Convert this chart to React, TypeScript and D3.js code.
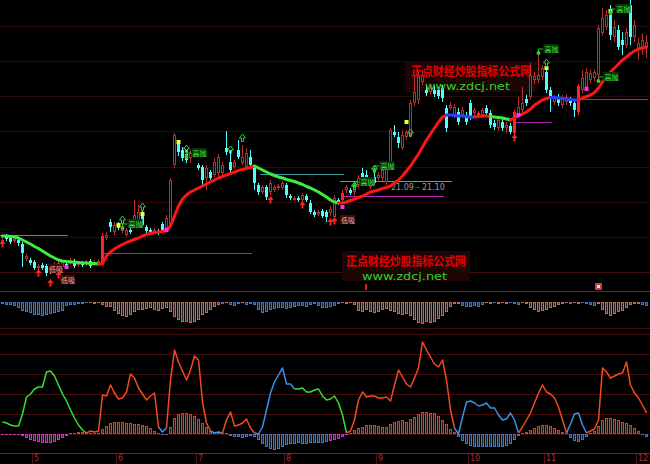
import React from 'react';
import * as d3 from 'd3';

// ---------- main panel: daily candles (price) ----------
const opens = [
  15.5, 16.1, 15.9, 15.6, 15.7, 15.3, 13.8, 13.7, 13.5, 12.9,
  13.2, 13.1, 12.9, 12.7, 12.4, 13.0, 13.3, 13.4, 13.6, 13.2,
  13.4, 13.3, 13.6, 13.3, 13.4, 13.4, 15.9, 17.5, 16.5, 17.3,
  16.6, 16.2, 16.7, 17.2, 17.5, 18.3, 17.0, 16.7, 16.5, 16.6,
  17.3, 16.9, 17.2, 23.2, 25.4, 24.7, 24.3, 23.9, 24.2, 23.2,
  23.0, 21.9, 22.5, 22.2, 22.4, 22.4, 24.9, 23.5, 23.0, 24.7,
  23.4, 23.0, 24.0, 23.0, 21.2, 20.5, 21.0, 20.5, 20.7, 20.9,
  20.9, 21.2, 20.1, 19.7, 19.9, 19.7, 20.1, 19.4, 18.5, 18.3,
  18.6, 18.5, 18.4, 18.0, 19.7, 19.7, 20.7, 20.7, 20.5, 21.2,
  22.4, 22.2, 21.0, 22.0, 21.9, 21.9, 21.5, 23.2, 26.5, 26.0,
  24.9, 26.0, 26.4, 29.4, 29.7, 31.5, 30.7, 30.5, 30.7, 30.7,
  30.9, 28.9, 28.9, 28.2, 28.5, 28.2, 28.2, 29.4, 28.4, 28.1,
  28.2, 28.9, 28.4, 27.4, 26.9, 27.5, 26.9, 27.1, 26.4, 28.2,
  28.7, 29.8, 30.0, 31.7, 31.7, 32.0, 32.5, 30.7, 29.5, 30.0,
  29.2, 29.5, 29.7, 29.4, 28.5, 30.7, 31.0, 31.7, 31.9, 32.2,
  36.4, 37.0, 38.2, 36.0, 36.7, 35.7, 35.2, 39.2, 36.0, 34.7,
  34.9, 35.0,
];
const highs = [
  16.0, 16.3, 16.1, 16.0, 15.9, 15.5, 14.3, 13.9, 13.7, 13.3,
  13.4, 13.3, 13.1, 13.5, 13.7, 13.7, 13.5, 13.9, 13.8, 13.6,
  13.6, 13.7, 13.8, 13.7, 13.8, 16.4, 16.5, 17.8, 17.5, 17.5,
  17.1, 16.9, 16.9, 19.7, 19.2, 18.7, 17.2, 16.9, 16.9, 16.8,
  17.5, 18.2, 21.9, 26.4, 25.7, 25.0, 24.7, 24.7, 24.7, 23.4,
  23.2, 23.2, 22.7, 23.9, 24.3, 23.5, 26.6, 24.7, 23.7, 25.7,
  25.2, 24.9, 24.7, 23.2, 21.4, 21.2, 21.2, 21.7, 21.2, 21.3,
  21.6, 21.4, 20.3, 20.1, 20.1, 20.4, 20.3, 19.7, 18.7, 18.7,
  18.8, 18.7, 19.1, 20.2, 19.9, 20.7, 21.2, 20.9, 21.3, 22.2,
  22.9, 22.7, 21.7, 22.5, 22.5, 23.2, 23.4, 26.9, 27.2, 26.5,
  26.7, 26.7, 29.7, 32.0, 32.5, 32.7, 31.2, 31.3, 31.1, 31.0,
  31.2, 29.2, 29.5, 29.3, 28.9, 29.0, 28.5, 29.7, 28.9, 28.6,
  28.9, 29.2, 28.7, 27.7, 28.0, 27.8, 27.5, 27.4, 28.7, 30.0,
  31.0, 30.2, 33.4, 32.5, 34.4, 33.2, 32.9, 31.0, 30.2, 30.3,
  30.2, 30.3, 30.0, 29.7, 31.3, 32.7, 32.9, 32.7, 32.7, 37.2,
  38.9, 38.7, 39.2, 37.7, 37.2, 36.5, 36.9, 39.7, 37.7, 35.9,
  36.4, 36.2,
];
const lows = [
  15.4, 15.6, 15.3, 15.4, 15.1, 13.0, 13.6, 13.2, 12.7, 12.7,
  12.7, 12.1, 12.3, 12.5, 12.1, 12.8, 12.8, 13.2, 12.9, 13.0,
  13.0, 13.1, 12.9, 13.1, 13.2, 13.2, 15.7, 16.5, 16.2, 16.7,
  16.4, 16.0, 16.3, 16.9, 17.2, 17.0, 16.4, 16.3, 16.3, 16.2,
  16.5, 16.7, 16.9, 22.9, 24.1, 23.6, 23.4, 23.4, 23.9, 22.7,
  21.0, 20.7, 21.7, 22.0, 22.1, 22.2, 24.2, 22.5, 22.8, 23.8,
  23.2, 22.7, 23.0, 20.7, 20.2, 20.3, 19.7, 20.2, 20.5, 20.7,
  20.7, 19.9, 19.7, 19.6, 19.5, 19.5, 19.5, 18.3, 18.0, 18.1,
  17.9, 17.5, 18.1, 17.7, 19.2, 19.4, 20.4, 20.2, 20.2, 20.9,
  21.7, 21.2, 20.8, 21.2, 21.7, 21.6, 21.2, 22.9, 26.0, 24.9,
  24.7, 25.7, 26.1, 29.1, 29.3, 31.2, 30.1, 30.2, 30.0, 29.8,
  29.5, 26.5, 28.7, 27.9, 27.2, 27.9, 27.2, 27.7, 28.1, 27.9,
  27.9, 28.1, 26.9, 26.7, 26.6, 26.6, 26.4, 26.3, 26.0, 28.0,
  28.4, 29.1, 29.7, 31.3, 31.4, 31.7, 30.4, 28.5, 29.2, 29.1,
  28.9, 29.2, 29.1, 28.0, 28.2, 30.4, 30.7, 31.4, 31.6, 31.9,
  36.1, 36.7, 35.7, 35.5, 34.7, 34.2, 34.9, 35.2, 35.5, 33.7,
  34.2, 33.9,
];
const closes = [
  15.7, 15.8, 15.5, 15.8, 15.4, 14.4, 14.1, 13.4, 12.9, 13.1,
  12.9, 12.4, 12.6, 13.3, 13.4, 13.5, 13.0, 13.7, 13.1, 13.4,
  13.2, 13.5, 13.1, 13.5, 13.6, 16.1, 16.2, 17.0, 17.2, 16.9,
  16.9, 16.7, 16.5, 18.2, 18.5, 17.2, 16.6, 16.5, 16.7, 16.4,
  16.7, 17.9, 21.7, 26.2, 24.5, 23.9, 23.7, 24.4, 24.5, 22.9,
  21.7, 22.9, 21.9, 23.5, 24.0, 23.2, 24.5, 22.7, 23.5, 24.0,
  24.0, 24.4, 23.2, 21.4, 20.5, 21.0, 20.0, 21.4, 21.0, 21.1,
  21.4, 20.2, 19.9, 19.9, 19.7, 20.2, 19.7, 18.5, 18.2, 18.5,
  18.1, 18.0, 18.8, 19.9, 19.4, 20.4, 21.0, 20.4, 21.1, 21.9,
  21.9, 21.5, 21.5, 21.4, 22.2, 22.7, 23.0, 26.7, 26.2, 25.4,
  26.2, 26.5, 29.4, 30.5, 32.0, 32.2, 30.4, 30.9, 30.3, 30.1,
  29.9, 26.9, 29.2, 29.0, 27.5, 28.7, 27.5, 28.0, 28.7, 28.4,
  28.7, 28.4, 27.2, 27.0, 27.7, 26.9, 27.2, 26.5, 28.5, 29.0,
  29.4, 29.4, 32.2, 32.1, 32.2, 32.9, 30.7, 30.0, 29.9, 29.4,
  29.9, 30.0, 29.4, 28.7, 31.1, 31.9, 32.5, 32.4, 32.5, 36.9,
  37.9, 38.2, 36.2, 37.0, 35.0, 35.2, 36.5, 36.0, 37.2, 35.4,
  35.7, 35.5,
];
const solidBars = [25, 85, 119, 128, 144];

// trend line of the main panel
const maValues = [
  16.1, 16.1, 16.05, 16.0, 15.9, 15.7, 15.5, 15.3, 15.05, 14.85,
  14.6, 14.35, 14.1, 13.9, 13.7, 13.6, 13.55, 13.5, 13.5, 13.45,
  13.4, 13.4, 13.35, 13.35, 13.3, 13.3, 14.1, 14.5, 14.8, 15.05,
  15.25, 15.45, 15.6, 15.75, 15.9, 16.1, 16.25, 16.35, 16.45, 16.5,
  16.55, 16.65, 17.1, 18.1, 19.1, 19.8, 20.2, 20.5, 20.7, 20.9,
  21.1, 21.3, 21.5, 21.7, 21.9, 22.05, 22.2, 22.35, 22.5, 22.65,
  22.75, 22.85, 22.95, 23.1, 22.9, 22.7, 22.5, 22.3, 22.15, 22.0,
  21.9, 21.75, 21.65, 21.55, 21.4, 21.25, 21.05, 20.9, 20.7, 20.5,
  20.25, 20.0, 19.7, 19.5, 19.4, 19.4, 19.5, 19.65, 19.8, 19.95,
  20.1, 20.3, 20.5, 20.6, 20.7, 20.85, 20.95, 21.1, 21.4, 21.7,
  22.1, 22.6, 23.1, 23.7, 24.3, 25.0, 25.7, 26.3, 26.9, 27.5,
  28.0, 28.2, 28.2, 28.15, 28.1, 28.1, 28.05, 28.0, 28.0, 28.05,
  28.1, 28.1, 28.05, 28.0, 27.95, 27.9, 27.8, 27.7, 27.9, 28.1,
  28.3, 28.5, 28.8, 29.2, 29.45, 29.7, 29.85, 29.95, 29.95, 29.9,
  29.85, 29.8, 29.75, 29.7, 29.7, 29.9, 30.05, 30.2, 30.45, 30.9,
  31.5, 32.0, 32.5, 32.9, 33.3, 33.7, 34.0, 34.35, 34.6, 34.8,
  34.9, 35.0,
];
const maRuns: [number, number, string][] = [
  [0, 24, 'g'], [25, 63, 'r'], [64, 84, 'g'], [85, 111, 'r'], [112, 118, 'b'],
  [119, 122, 'r'], [123, 127, 'g'], [128, 137, 'r'], [138, 144, 'b'], [145, 161, 'r'],
];

// support / resistance lines: [from, to, price, kind]
const hLines: [number, number, number, string][] = [
  [0, 16, 16.2, 'teal'], [26, 62, 14.4, 'mag'], [65, 85, 22.3, 'teal'],
  [85, 112, 21.6, 'gray'], [86, 110, 20.1, 'mag'], [129, 137, 27.5, 'mag'],
  [144, 161, 29.8, 'mag'],
];

// signals: [index, price]
const yellowMarks: [number, number][] = [[29, 17.2], [35, 18.3], [44, 25.5], [101, 27.5], [136, 32.9], [152, 38.6]];
const magentaMarks: [number, number][] = [[16, 13.0], [41, 16.7], [85, 19.0], [129, 28.2], [146, 30.8]];
const greenArrows: [number, number][] = [[30, 17.7], [35, 19.0], [46, 24.8], [57, 24.7], [60, 25.9], [88, 21.1], [93, 22.8], [102, 26.4], [136, 33.4]];
const sellLabels: [number, number][] = [[30, 16.9], [46, 24.0], [88, 21.1], [93, 22.7], [134, 34.4], [149, 31.6], [152, 38.4]];
const buyLabels: [number, number][] = [[11, 12.9], [14, 11.8], [84, 17.8]];
const redArrows: [number, number][] = [[0, 15.3], [9, 12.4], [12, 11.4], [14, 12.2], [67, 19.7], [75, 19.2], [82, 17.5], [83, 17.6], [128, 25.9]];
const sellText = '高抛';
const buyText = '低吸';
const rangeText = '21.09 - 21.10';

// ---------- middle panel ----------
const macdValues = [
  -0.2, -0.3, -0.3, -0.4, -0.6, -0.9, -1.0, -1.1, -1.3, -1.3,
  -1.4, -1.3, -1.2, -1.1, -1.0, -0.9, -0.4, -0.3, -0.3, -0.2,
  -0.2, -0.1, -0.1, -0.2, -0.1, -0.3, -0.5, -0.5, -0.9, -1.2,
  -1.4, -1.5, -1.3, -1.0, -0.8, -0.8, -0.7, -0.6, -0.8, -0.9,
  -0.7, -0.6, -1.0, -1.5, -1.8, -2.0, -2.0, -2.1, -2.0, -1.8,
  -1.3, -1.1, -0.8, -0.5, -0.3, -0.2, -0.1, -0.3, -0.4, -0.2,
  -0.1, -0.3, -0.2, -0.3, -0.8, -1.1, -1.0, -0.8, -0.7, -0.6,
  -0.6, -0.7, -0.6, -0.5, -0.4, -0.4, -0.5, -0.3, -0.2, -0.4,
  -0.6, -0.6, -0.5, -0.4, -0.2, -0.1, -0.2, -0.1, -0.3, -0.9,
  -1.0, -0.8, -1.0, -1.1, -1.0, -0.8, -0.7, -0.9, -1.0, -1.2,
  -1.3, -1.2, -1.4, -1.8, -2.1, -2.2, -2.0, -2.1, -2.0, -1.7,
  -1.4, -1.0, -0.5, -0.2, -0.2, -0.4, -0.5, -0.5, -0.4, -0.5,
  -0.3, -0.1, -0.2, -0.1, -0.2, -0.1, -0.2, -0.1, -0.2, -0.3,
  -0.1, -0.2, -0.6, -0.8, -1.0, -0.9, -0.8, -0.6, -0.5, -0.3,
  -0.2, -0.1, -0.2, -0.1, -0.2, -0.1, -0.2, -0.3, -0.4, -0.2,
  -0.8, -1.2, -1.4, -1.2, -1.0, -0.9, -0.6, -0.3, -0.2, -0.2,
  -0.3, -0.4,
];
const macdRuns: [number, number, string][] = [
  [0, 21, 'b'], [22, 54, 'p'], [55, 55, 'b'], [56, 56, 'p'], [57, 59, 'b'], [60, 60, 'p'],
  [61, 84, 'b'], [85, 114, 'p'], [115, 120, 'b'], [121, 122, 'p'], [123, 123, 'b'],
  [124, 126, 'p'], [127, 129, 'b'], [130, 141, 'p'], [142, 142, 'b'], [143, 144, 'p'],
  [145, 148, 'b'], [149, 159, 'p'], [160, 161, 'b'],
];
const panelMarks: [number, string][] = [[91, 'bar'], [149, 'box']];

// ---------- lower panel ----------
const oscLine = [
  12, 11, 9, 8, 8, 20, 37, 40, 45, 47,
  47, 62, 63, 58, 49, 40, 33, 24, 16, 9,
  4, 1, 3, 2, 3, 39, 38, 49, 41, 35,
  36, 42, 60, 56, 46, 40, 34, 38, 41, 7,
  2, 6, 54, 84, 72, 63, 54, 64, 78, 74,
  32, 11, 3, 1, 2, 1, 14, 22, 8, 9,
  11, 15, 6, 1, 0, 7, 24, 41, 52, 59,
  66, 50, 50, 45, 45, 46, 42, 42, 44, 45,
  38, 34, 35, 38, 31, 19, 1, 3, 14, 34,
  42, 37, 38, 38, 36, 36, 37, 33, 49, 64,
  57, 50, 47, 56, 66, 92, 84, 77, 70, 67,
  74, 54, 24, 6, 0, 17, 32, 33, 31, 28,
  29, 31, 26, 26, 19, 14, 15, 21, 14, 1,
  7, 14, 21, 31, 41, 49, 42, 40, 36, 27,
  14, 1, 10, 20, 21, 9, 1, 3, 5, 14,
  66, 62, 56, 58, 60, 61, 72, 49, 41, 36,
  29, 21,
];
const oscRuns: [number, number, string][] = [
  [0, 21, 'g'], [22, 39, 'o'], [40, 41, 'b'], [42, 52, 'o'], [53, 55, 'b'], [56, 63, 'o'],
  [64, 73, 'b'], [74, 86, 'g'], [87, 113, 'o'], [114, 129, 'b'], [130, 141, 'o'],
  [142, 146, 'b'], [147, 161, 'o'],
];
const oscBars = [
  -1, -1, -1, -1, -1, -2, -4, -6, -7, -8,
  -9, -9, -9, -8, -6, -4, -2, 1, 1, 2,
  2, 1, 1, 1, 1, 5, 8, 11, 12, 12,
  12, 11, 11, 10, 10, 9, 8, 6, 3, 1,
  -1, -1, 7, 16, 20, 21, 21, 20, 18, 15,
  11, 7, 3, 1, 1, 1, 1, -2, -3, -3,
  -4, -3, -2, -3, -6, -10, -13, -15, -16, -15,
  -13, -11, -10, -10, -9, -10, -10, -9, -9, -9,
  -9, -8, -7, -6, -5, -3, -1, 1, 4, 6,
  7, 9, 9, 9, 8, 7, 7, 10, 12, 13,
  14, 12, 15, 17, 20, 22, 22, 21, 21, 18,
  14, 10, 5, 2, -3, -7, -10, -12, -13, -13,
  -13, -13, -13, -13, -13, -13, -12, -10, -6, -2,
  1, 2, 4, 6, 8, 9, 9, 8, 6, 4,
  2, 1, -4, -7, -8, -6, -3, 1, 3, 8,
  14, 16, 16, 15, 14, 12, 11, 9, 6, 3,
  -1, -3,
];
const oscMagentaRuns: [number, number][] = [[0, 16], [82, 86]];

// ---------- axis ----------
const monthLabels = ['5', '6', '7', '8', '9', '10', '11', '12'];
const monthIndex = [8, 29, 49, 71, 94, 117, 136, 159];

const C = {
  bg: '#000000',
  upHollow: '#b8302c',
  down: '#54fcfc',
  solid: '#ff2424',
  maR: '#ff1414',
  maG: '#3cec3c',
  maB: '#2440ff',
  teal: '#3c9c9c',
  mag: '#b024b4',
  gray: '#8c8c8c',
  gridMain: '#2c0909',
  gridLow: '#440d0d',
  sep: '#8a1a1a',
  macdB: '#3a78cc',
  macdP: '#c06a5c',
  oscO: '#f24a1e',
  oscG: '#34e034',
  oscB: '#3c90e6',
  barBrown: '#c04a30',
  barBlue: '#3a7ad0',
  barMag: '#d030d8',
};

export default function App() {
  const N = closes.length;
  const x = d3.scaleLinear().domain([0, N - 1]).range([2, 646]);
  const yP = d3.scaleLinear().domain([10.5, 39.7]).range([292, 0]);
  const yM = d3.scaleLinear().domain([-2.6, 1.0]).range([328, 292]);
  const yO = d3.scaleLinear().domain([-19, 106]).range([453, 328]);
  const cx = (i: number) => Math.round(x(i));

  const runPath = (vals: number[], sy: (v: number) => number, s: number, e: number) =>
    d3.line<number>().x((i) => cx(i) + 0.5).y((i) => sy(vals[i]))(d3.range(Math.max(0, s - 1), e + 1)) || '';

  const maColor: Record<string, string> = { r: C.maR, g: C.maG, b: C.maB };
  const oscColor: Record<string, string> = { o: C.oscO, g: C.oscG, b: C.oscB };
  const lineColor: Record<string, string> = { teal: C.teal, mag: C.mag, gray: C.gray };

  const macdColorAt = (i: number) => {
    const r = macdRuns.find((q) => i >= q[0] && i <= q[1]);
    return r && r[2] === 'p' ? C.macdP : C.macdB;
  };
  const oscBarColor = (i: number, v: number) => {
    if (v >= 0) return C.barBrown;
    return oscMagentaRuns.some((q) => i >= q[0] && i <= q[1]) ? C.barMag : C.barBlue;
  };

  const gridMainYs = d3.range(8).map((k) => Math.round(26 + k * 35.15) + 0.5);
  const gridLowVals = [20, 40, 60, 80, 100, 0];

  const hollowBar = (i: number, y0: number, y1: number, color: string, key: string) => {
    const c = cx(i);
    const top = Math.round(Math.min(y0, y1));
    const bot = Math.round(Math.max(y0, y1));
    if (bot - top < 2) {
      return <line key={key} x1={c - 1} x2={c + 2} y1={top + 0.5} y2={top + 0.5} stroke={color} />;
    }
    return (
      <rect key={key} x={c - 0.5} y={top + 0.5} width={2} height={bot - top - 1}
        fill={color} fillOpacity={0.28} stroke={color} shapeRendering="crispEdges" />
    );
  };

  const arrowUp = 'M0,-4 L3,0 L1,0 L1,3.5 L-1,3.5 L-1,0 L-3,0 Z';

  return (
    <div style={{ position: 'absolute', left: 0, top: 0, width: 650, height: 464, background: C.bg }}>
      <svg width={650} height={464} style={{ display: 'block' }} fontFamily="DejaVu Sans, sans-serif">
        <rect x={0} y={0} width={650} height={464} fill={C.bg} />

        {/* main grid */}
        {gridMainYs.map((gy, k) => (
          <line key={'gm' + k} x1={0} x2={650} y1={gy} y2={gy} stroke={k === 7 ? C.gridLow : C.gridMain} />
        ))}
        {/* separators */}
        <line x1={0} x2={650} y1={291.5} y2={291.5} stroke={C.sep} />
        <line x1={0} x2={650} y1={328.5} y2={328.5} stroke={C.gridLow} />
        {gridLowVals.map((v) => (
          <line key={'gl' + v} x1={0} x2={650} y1={Math.round(yO(v)) + 0.5} y2={Math.round(yO(v)) + 0.5} stroke={C.gridLow} />
        ))}
        <line x1={0} x2={650} y1={453.5} y2={453.5} stroke={C.sep} />

        {/* watermark boxes */}
        <rect x={405} y={61} width={132} height={31} fill="#1c0606" />
        <rect x={342} y={251} width={128} height={30} fill="#1c0606" />

        {/* horizontal support lines */}
        {hLines.map(([s, e, p, k], j) => (
          <line key={'hl' + j} x1={cx(s) - 2} x2={cx(e) + 2} y1={Math.round(yP(p)) + 0.5} y2={Math.round(yP(p)) + 0.5} stroke={lineColor[k]} />
        ))}
        <text x={391} y={190} fontSize={8} fill="#9a9a9a">{rangeText}</text>

        {/* candles */}
        {closes.map((cl, i) => {
          const c = cx(i);
          const o = yP(opens[i]);
          const cc = yP(cl);
          const h = yP(highs[i]);
          const l = yP(lows[i]);
          const up = cl >= opens[i];
          const solid = solidBars.includes(i);
          const top = Math.round(Math.min(o, cc));
          const bot = Math.round(Math.max(o, cc));
          const col = solid ? C.solid : up ? C.upHollow : C.down;
          const wick = <line x1={c + 0.5} x2={c + 0.5} y1={Math.round(h)} y2={Math.round(l)} stroke={col} />;
          let body;
          if (solid || !up) {
            body = <rect x={c - 1} y={top} width={3} height={Math.max(1, bot - top)} fill={col} />;
          } else if (bot - top < 2) {
            body = <line x1={c - 1} x2={c + 2} y1={top + 0.5} y2={top + 0.5} stroke={col} />;
          } else {
            body = <rect x={c - 0.5} y={top + 0.5} width={2} height={bot - top - 1} fill={C.bg} stroke={col} />;
          }
          return (
            <g key={'c' + i}>
              {wick}
              {body}
            </g>
          );
        })}

        {/* trend line */}
        {maRuns.map(([s, e, k], j) => (
          <path key={'ma' + j} d={runPath(maValues, yP, s, e)} fill="none" stroke={maColor[k]} strokeWidth={3} strokeLinejoin="round" strokeLinecap="round" />
        ))}

        {/* signal markers */}
        {yellowMarks.map(([i, p], j) => (
          <rect key={'ym' + j} x={cx(i) - 1.5} y={yP(p) - 2} width={4} height={4} fill="#ffff30" />
        ))}
        {magentaMarks.map(([i, p], j) => (
          <rect key={'mm' + j} x={cx(i) - 1.5} y={yP(p) - 2} width={4} height={4} fill="#ff30ff" />
        ))}
        {greenArrows.map(([i, p], j) => (
          <path key={'ga' + j} d={arrowUp} transform={`translate(${cx(i) + 0.5},${yP(p)})`} fill="none" stroke="#30d030" strokeWidth={1} />
        ))}
        {redArrows.map(([i, p], j) => (
          <path key={'ra' + j} d={arrowUp} transform={`translate(${cx(i) + 0.5},${yP(p)})`} fill="#ff2020" />
        ))}
        {sellLabels.map(([i, p], j) => {
          const c = cx(i) + 0.5;
          const yy = yP(p);
          return (
            <g key={'sl' + j}>
              <path d={`M${c},${yy} L${c},${yy - 4} L${c + 5},${yy - 4}`} fill="none" stroke="#30c030" />
              <circle cx={c} cy={yy} r={2} fill="#30d030" />
              <rect x={c + 5} y={yy - 9} width={15} height={9} fill="#0c300c" />
              <text x={c + 6} y={yy - 1.5} fontSize={7} fill="#3ce03c" fontFamily="Noto Sans CJK SC">{sellText}</text>
            </g>
          );
        })}
        {buyLabels.map(([i, p], j) => {
          const c = cx(i);
          const yy = yP(p);
          return (
            <g key={'bl' + j}>
              <rect x={c + 2} y={yy - 4} width={15} height={9} fill="#3a0c0c" />
              <text x={c + 3} y={yy + 3.5} fontSize={7} fill="#e8b0b0" fontFamily="Noto Sans CJK SC">{buyText}</text>
            </g>
          );
        })}

        {/* watermark text */}
        <text x={411} y={76} fontSize={12.5} fontWeight={700} fill="#e80000" fontFamily="Noto Sans CJK SC" textLength={120} lengthAdjust="spacingAndGlyphs">正点财经炒股指标公式网</text>
        <text x={425} y={90} fontSize={10} fill="#2cd42c" fontFamily="DejaVu Sans" textLength={85} lengthAdjust="spacingAndGlyphs">www.zdcj.net</text>
        <text x={346} y={266} fontSize={12.5} fontWeight={700} fill="#e80000" fontFamily="Noto Sans CJK SC" textLength={120} lengthAdjust="spacingAndGlyphs">正点财经炒股指标公式网</text>
        <text x={362} y={280} fontSize={10} fill="#2cd42c" fontFamily="DejaVu Sans" textLength={85} lengthAdjust="spacingAndGlyphs">www.zdcj.net</text>

        {/* middle panel bars */}
        {macdValues.map((v, i) => hollowBar(i, yM(0), yM(v), macdColorAt(i), 'md' + i))}
        {panelMarks.map(([i, k], j) =>
          k === 'bar' ? (
            <rect key={'pm' + j} x={cx(i) - 1} y={284} width={2} height={6} fill="#d02020" />
          ) : (
            <g key={'pm' + j}>
              <rect x={cx(i) - 3} y={283} width={7} height={7} fill="#c04040" />
              <rect x={cx(i) - 1} y={285} width={3} height={3} fill="#f0e0e0" />
            </g>
          )
        )}

        {/* lower panel bars */}
        {oscBars.map((v, i) => hollowBar(i, yO(0), yO(v), oscBarColor(i, v), 'ob' + i))}
        {/* lower panel line */}
        {oscRuns.map(([s, e, k], j) => (
          <path key={'ol' + j} d={runPath(oscLine, yO, s, e)} fill="none" stroke={oscColor[k]} strokeWidth={1.5} strokeLinejoin="round" />
        ))}

        {/* x axis */}
        {monthIndex.map((i, j) => (
          <g key={'mx' + j}>
            <line x1={cx(i) - 1.5} x2={cx(i) - 1.5} y1={454} y2={464} stroke="#5a1010" />
            <text x={cx(i)} y={461} fontSize={8} fill="#b03030">{monthLabels[j]}</text>
          </g>
        ))}
      </svg>
    </div>
  );
}
